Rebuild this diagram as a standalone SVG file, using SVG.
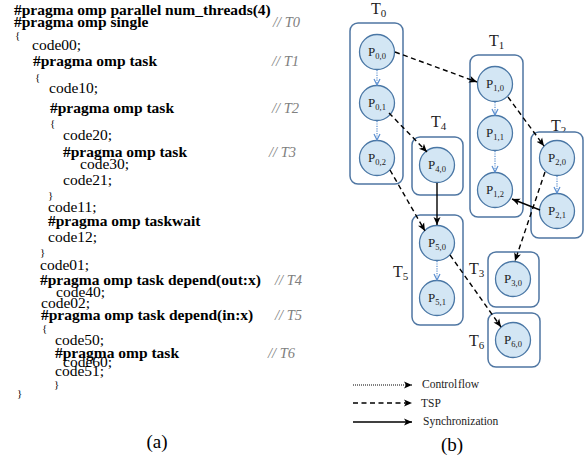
<svg xmlns="http://www.w3.org/2000/svg" width="588" height="462" viewBox="0 0 588 462">
<style>
.c{font-family:"Liberation Serif","Times New Roman",serif;font-size:15.5px;fill:#000}
.b{font-weight:bold}
.br{font-family:"Liberation Serif","Times New Roman",serif;font-size:11px;fill:#000}
.cm{font-family:"Liberation Serif","Times New Roman",serif;font-size:14.5px;font-style:italic;fill:#808080}
.cap{font-family:"Liberation Serif","Times New Roman",serif;font-size:19px;fill:#000}
.box{fill:#fff;stroke:#4f76a2;stroke-width:1.5}
.nd{fill:#d3e6f4;stroke:#4a77a5;stroke-width:1.3}
.pl{font-family:"Liberation Serif","Times New Roman",serif;font-size:13px;fill:#222;text-anchor:middle}
.sb{font-size:8.5px}
.tl{font-family:"Liberation Serif","Times New Roman",serif;font-size:16px;fill:#222}
.ts{font-size:11px}
.cf{stroke:#5b8fd0;stroke-width:1.2;stroke-dasharray:1.2 1.2;fill:none}
.tsp{stroke:#000;stroke-width:1.4;stroke-dasharray:5 3.5;fill:none}
.sy{stroke:#000;stroke-width:1.4;fill:none}
.lg{font-family:"Liberation Serif","Times New Roman",serif;font-size:11.5px;fill:#222}
</style>
<defs>
<marker id="ab" markerWidth="8" markerHeight="8" refX="7" refY="4" orient="auto" markerUnits="userSpaceOnUse">
<path d="M1,1 L7,4 L1,7" fill="none" stroke="#5b8fd0" stroke-width="1.2"/>
</marker>
<marker id="ak" markerWidth="9" markerHeight="9" refX="8" refY="4.5" orient="auto" markerUnits="userSpaceOnUse">
<path d="M0,1 L8,4.5 L0,8 L2,4.5 z" fill="#000"/>
</marker>
</defs>

<g id="code">
<text class="c b" x="14" y="15">#pragma omp parallel num_threads(4)</text>
<text class="c b" x="14" y="27">#pragma omp single</text>
<text class="cm" x="273" y="27">// T0</text>
<text class="br" x="15" y="39">{</text>
<text class="c" x="32" y="50">code00;</text>
<text class="c b" x="33" y="66">#pragma omp task</text>
<text class="cm" x="272" y="66">// T1</text>
<text class="br" x="35" y="81">{</text>
<text class="c" x="49" y="93">code10;</text>
<text class="c b" x="50" y="113">#pragma omp task</text>
<text class="cm" x="272" y="113">// T2</text>
<text class="br" x="50" y="127">{</text>
<text class="c" x="63" y="140">code20;</text>
<text class="c b" x="63" y="157">#pragma omp task</text>
<text class="cm" x="269" y="157">// T3</text>
<text class="c" x="80" y="169">code30;</text>
<text class="c" x="63" y="185">code21;</text>
<text class="br" x="48" y="199">}</text>
<text class="c" x="48" y="212">code11;</text>
<text class="c b" x="48" y="226">#pragma omp taskwait</text>
<text class="c" x="48" y="242">code12;</text>
<text class="br" x="40" y="256">}</text>
<text class="c" x="40" y="270">code01;</text>
<text class="c b" x="40" y="285">#pragma omp task depend(out:x)</text>
<text class="cm" x="275" y="285">// T4</text>
<text class="c" x="56" y="297">code40;</text>
<text class="c" x="41" y="308">code02;</text>
<text class="c b" x="41" y="320">#pragma omp task depend(in:x)</text>
<text class="cm" x="275" y="320">// T5</text>
<text class="br" x="42" y="332">{</text>
<text class="c" x="55" y="345">code50;</text>
<text class="c b" x="55" y="358">#pragma omp task</text>
<text class="cm" x="268" y="358">// T6</text>
<text class="c" x="63" y="367">code60;</text>
<text class="c" x="55" y="376">code51;</text>
<text class="br" x="54" y="388">}</text>
<text class="br" x="17" y="397">}</text>
<text class="cap" x="157" y="448" text-anchor="middle">(a)</text>
</g>

<g id="T0">
<text class="tl" x="371" y="14">T<tspan class="ts" dy="3">0</tspan></text>
<rect class="box" x="350" y="23" width="53" height="161" rx="8"/>
</g>
<g id="T1">
<text class="tl" x="489" y="46">T<tspan class="ts" dy="3">1</tspan></text>
<rect class="box" x="470" y="55" width="53" height="162" rx="8"/>
</g>
<g id="T2">
<text class="tl" x="551" y="131">T<tspan class="ts" dy="3">2</tspan></text>
<rect class="box" x="531" y="132" width="52" height="106" rx="8"/>
</g>
<g id="T4">
<text class="tl" x="431" y="127">T<tspan class="ts" dy="3">4</tspan></text>
<rect class="box" x="412" y="137" width="51" height="58" rx="8"/>
</g>
<g id="T5">
<text class="tl" x="393" y="277">T<tspan class="ts" dy="3">5</tspan></text>
<rect class="box" x="412" y="215" width="51" height="110" rx="8"/>
</g>
<g id="T3">
<text class="tl" x="469" y="274">T<tspan class="ts" dy="3">3</tspan></text>
<rect class="box" x="488" y="252" width="51" height="55" rx="8"/>
</g>
<g id="T6">
<text class="tl" x="469" y="346">T<tspan class="ts" dy="3">6</tspan></text>
<rect class="box" x="488" y="313" width="52" height="54" rx="8"/>
</g>

<g id="P00"><circle class="nd" cx="377" cy="52" r="17.5"/><text class="pl" x="377" y="56">P<tspan class="sb" dy="3">0,0</tspan></text></g>
<g id="P01"><circle class="nd" cx="377" cy="103" r="17.5"/><text class="pl" x="377" y="107">P<tspan class="sb" dy="3">0,1</tspan></text></g>
<g id="P02"><circle class="nd" cx="377" cy="158" r="17.5"/><text class="pl" x="377" y="162">P<tspan class="sb" dy="3">0,2</tspan></text></g>
<g id="P10"><circle class="nd" cx="495" cy="84" r="17.5"/><text class="pl" x="495" y="88">P<tspan class="sb" dy="3">1,0</tspan></text></g>
<g id="P11"><circle class="nd" cx="495" cy="133" r="17.5"/><text class="pl" x="495" y="137">P<tspan class="sb" dy="3">1,1</tspan></text></g>
<g id="P12"><circle class="nd" cx="495" cy="190" r="17.5"/><text class="pl" x="495" y="194">P<tspan class="sb" dy="3">1,2</tspan></text></g>
<g id="P20"><circle class="nd" cx="557" cy="158" r="17.5"/><text class="pl" x="557" y="162">P<tspan class="sb" dy="3">2,0</tspan></text></g>
<g id="P21"><circle class="nd" cx="557" cy="211" r="17.5"/><text class="pl" x="557" y="215">P<tspan class="sb" dy="3">2,1</tspan></text></g>
<g id="P40"><circle class="nd" cx="437" cy="165" r="17.5"/><text class="pl" x="437" y="169">P<tspan class="sb" dy="3">4,0</tspan></text></g>
<g id="P50"><circle class="nd" cx="437" cy="243" r="17.5"/><text class="pl" x="437" y="247">P<tspan class="sb" dy="3">5,0</tspan></text></g>
<g id="P51"><circle class="nd" cx="437" cy="298" r="17.5"/><text class="pl" x="437" y="302">P<tspan class="sb" dy="3">5,1</tspan></text></g>
<g id="P30"><circle class="nd" cx="513" cy="279" r="17.5"/><text class="pl" x="513" y="283">P<tspan class="sb" dy="3">3,0</tspan></text></g>
<g id="P60"><circle class="nd" cx="513" cy="340" r="17.5"/><text class="pl" x="513" y="344">P<tspan class="sb" dy="3">6,0</tspan></text></g>

<g id="connectors">
<line class="cf" x1="377" y1="70" x2="377" y2="85" marker-end="url(#ab)"/>
<line class="cf" x1="377" y1="121" x2="377" y2="140" marker-end="url(#ab)"/>
<line class="cf" x1="495" y1="102" x2="495" y2="115" marker-end="url(#ab)"/>
<line class="cf" x1="495" y1="151" x2="495" y2="172" marker-end="url(#ab)"/>
<line class="cf" x1="557" y1="176" x2="557" y2="193" marker-end="url(#ab)"/>
<line class="cf" x1="437" y1="261" x2="437" y2="280" marker-end="url(#ab)"/>
<line class="tsp" x1="395" y1="52" x2="477" y2="82" marker-end="url(#ak)"/>
<line class="tsp" x1="389" y1="113" x2="427" y2="152" marker-end="url(#ak)"/>
<line class="tsp" x1="390" y1="170" x2="425" y2="231" marker-end="url(#ak)"/>
<line class="tsp" x1="508" y1="97" x2="544" y2="146" marker-end="url(#ak)"/>
<line class="tsp" x1="545" y1="172" x2="515" y2="261" marker-end="url(#ak)"/>
<line class="tsp" x1="450" y1="255" x2="501" y2="327" marker-end="url(#ak)"/>
<line class="sy" x1="437" y1="183" x2="437" y2="225" marker-end="url(#ak)"/>
<line class="sy" x1="540" y1="210" x2="512" y2="199" marker-end="url(#ak)"/>
</g>

<g id="legend">
<line x1="353" y1="385" x2="412" y2="385" stroke="#000" stroke-width="1" stroke-dasharray="1 1" marker-end="url(#ak)"/>
<text class="lg" x="422" y="388" word-spacing="-2">Control flow</text>
<line x1="353" y1="403" x2="412" y2="403" stroke="#000" stroke-width="1.4" stroke-dasharray="5 3.5" marker-end="url(#ak)"/>
<text class="lg" x="421" y="407">TSP</text>
<line x1="353" y1="422" x2="412" y2="422" stroke="#000" stroke-width="1.4" marker-end="url(#ak)"/>
<text class="lg" x="423" y="425">Synchronization</text>
<text class="cap" x="452" y="451" text-anchor="middle">(b)</text>
</g>
</svg>
